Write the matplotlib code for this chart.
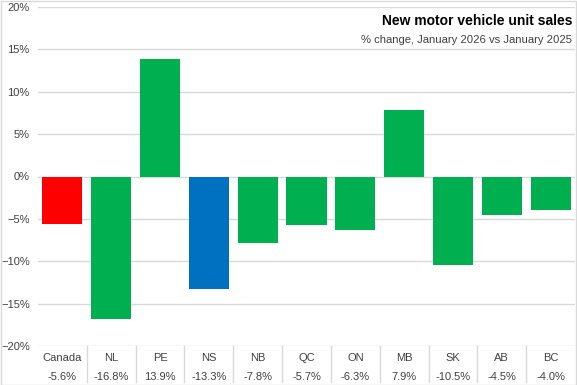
import matplotlib.pyplot as plt
from matplotlib.ticker import PercentFormatter
from matplotlib.lines import Line2D

regions = ['Canada', 'NL', 'PE', 'NS', 'NB', 'QC', 'ON', 'MB', 'SK', 'AB', 'BC']
change = [-5.6, -16.8, 13.9, -13.3, -7.8, -5.7, -6.3, 7.9, -10.5, -4.5, -4.0]
colors = ['#FF0000', '#00B050', '#00B050', '#0070C0', '#00B050', '#00B050',
          '#00B050', '#00B050', '#00B050', '#00B050', '#00B050']

plt.rcParams['font.family'] = ['Liberation Sans', 'DejaVu Sans']

fig = plt.figure(figsize=(5.77, 3.85), dpi=100)
ax = fig.add_axes([38 / 577, 1 - 346 / 385, 537 / 577, 339 / 385])

x = range(len(regions))
ax.bar(x, change, width=0.82, color=colors, zorder=3)

ax.set_ylim(-20, 20)
ax.set_yticks(range(-20, 21, 5))
ax.yaxis.set_major_formatter(PercentFormatter(decimals=0))
ax.set_xlim(-0.5, len(regions) - 0.5)
ax.set_xticks([])
ax.grid(axis='y', color='#D9D9D9', linewidth=1, zorder=0)
ax.tick_params(axis='y', length=0, labelsize=8, colors='#404040', pad=6)
for s in ax.spines.values():
    s.set_visible(False)

# table-style category labels under the plot
for i, (r, v) in enumerate(zip(regions, change)):
    ax.text(i, -21.4, r, ha='center', va='center', fontsize=8, color='#404040')
    ax.text(i, -23.6, f'{v:.1f}%', ha='center', va='center', fontsize=8, color='#404040')
for i in range(len(regions) - 1):
    ax.add_line(Line2D([i + 0.5, i + 0.5], [-20, -24.3], color='#D9D9D9',
                       linewidth=1, clip_on=False))

ax.text(0.995, 0.978, 'New motor vehicle unit sales', transform=ax.transAxes,
        ha='right', va='top', fontsize=10, fontweight='bold', color='black')
ax.text(0.995, 0.918, '% change, January 2026 vs January 2025', transform=ax.transAxes,
        ha='right', va='top', fontsize=8.1, color='#404040')

fig.patches.append(plt.Rectangle((0.001, 0.001), 0.998, 0.997, transform=fig.transFigure,
                                 fill=False, edgecolor='#D9D9D9', linewidth=1))

fig.savefig('out.png', dpi=100)
